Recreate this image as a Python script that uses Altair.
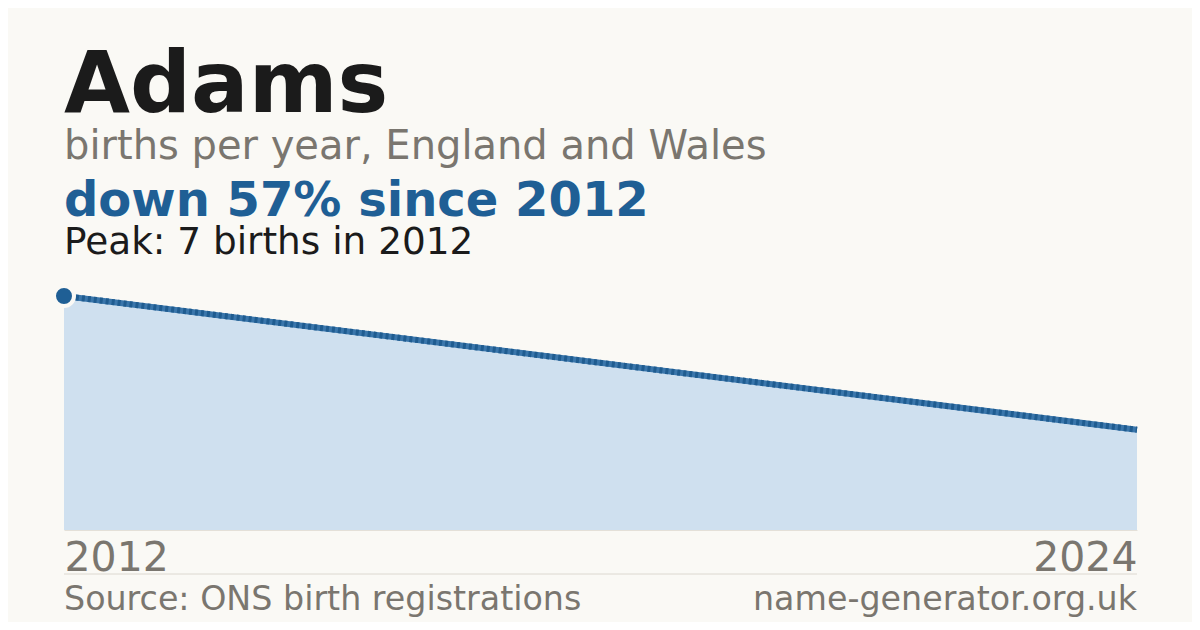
import altair as alt
import pandas as pd

years = [2012, 2024]
births = [7, 3]
peak_year = [2012]
peak_births = [7]

title_text = "Adams"
subtitle_text = "births per year, England and Wales"
change_text = "down 57% since 2012"
peak_text = "Peak: 7 births in 2012"
source_text = "Source: ONS birth registrations"
site_text = "name-generator.org.uk"

df = pd.DataFrame({"year": years, "births": births})
peak_df = pd.DataFrame({"year": peak_year, "births": peak_births})

W, H = 1073, 234
FONT = "DejaVu Sans"
BG = "#faf9f5"
BLUE = "#1f5f95"
GREY = "#7a766f"
DARK = "#1b1b1b"

x_enc = alt.X("year:Q", scale=alt.Scale(domain=[2012, 2024], nice=False, zero=False),
              axis=alt.Axis(values=[2012, 2024], format="d", grid=False, ticks=False,
                            domain=True, domainColor="#e4e0d8", domainWidth=1,
                            labelFlush=True, labelFont=FONT, labelFontSize=41,
                            labelColor=GREY, labelBaseline="alphabetic", labelPadding=40,
                            title=None))
y_enc = alt.Y("births:Q", scale=alt.Scale(domain=[0, 7], nice=False), axis=None)

base = alt.Chart(df)
area = base.mark_area(color="#cfe0ef", opacity=1).encode(x=x_enc, y=y_enc)
line = base.mark_line(color="#3a76ab", strokeWidth=6).encode(x="year:Q", y="births:Q")
line2 = base.mark_line(color="#1f5c90", strokeWidth=6, strokeDash=[3, 3]).encode(x="year:Q", y="births:Q")
pt = alt.Chart(peak_df).mark_point(filled=True, shape="circle", size=400, color=BLUE,
                                   stroke=BG, strokeWidth=4, opacity=1, strokeOpacity=1).encode(
    x="year:Q", y="births:Q")

def txt(text, y, size, color, weight="normal", align="left", x=0):
    return alt.Chart(pd.DataFrame({"t": [text]})).mark_text(
        font=FONT, fontSize=size, color=color, fontWeight=weight, align=align,
        baseline="alphabetic").encode(x=alt.value(x), y=alt.value(y), text="t:N")

texts = [
    txt(title_text, -184, 85.3, DARK, "bold"),
    txt(subtitle_text, -137, 40, GREY),
    txt(change_text, -80, 48, BLUE, "bold"),
    txt(peak_text, -42, 37.4, DARK),
    txt(source_text, 314, 33.3, GREY),
    txt(site_text, 314, 33.3, GREY, align="right", x=W),
]

sep = alt.Chart(pd.DataFrame({"a": [0]})).mark_rule(color="#dcd8d0", strokeWidth=1).encode(
    x=alt.value(0), x2=alt.value(W), y=alt.value(278))

chart = alt.layer(area, line, line2, pt, sep, *texts).properties(
    width=W, height=H,
    autosize=alt.AutoSizeParams(type="none"),
    padding={"left": 56, "top": 288, "right": 55, "bottom": 92},
    background=BG,
).configure_view(stroke=None)

chart.save("out.html", embed_options={"renderer": "svg", "actions": False})
